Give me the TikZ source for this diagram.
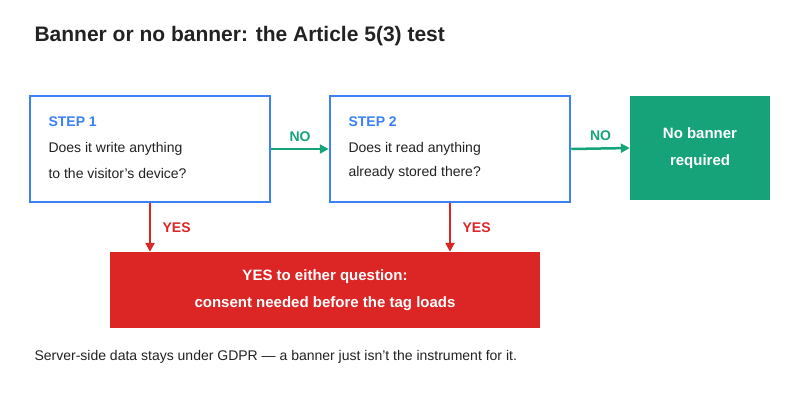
\documentclass[tikz,border=0pt]{standalone}
\usepackage{fontspec}
\setmainfont{Liberation Sans}
\usetikzlibrary{arrows.meta,positioning}
\definecolor{stepblue}{HTML}{3B82F6}
\definecolor{nogreen}{HTML}{16A37A}
\definecolor{yesred}{HTML}{DC2626}
\definecolor{inkgray}{HTML}{222222}
\begin{document}
\begin{tikzpicture}[x=1pt,y=-1pt,>={Triangle[length=9pt,width=9pt]},
    step box/.style={draw=stepblue,line width=2.5pt,fill=white,minimum width=240pt,minimum height=106pt},
    body/.style={anchor=west,font=\fontsize{14}{17}\selectfont,text=inkgray},
    head/.style={anchor=west,font=\fontsize{14}{17}\selectfont\bfseries,text=stepblue},
    no arrow/.style={->,draw=nogreen,line width=2.5pt},
    yes arrow/.style={->,draw=yesred,line width=2.5pt},
    tag/.style={font=\fontsize{14}{17}\selectfont\bfseries}]
  \useasboundingbox (0,0) rectangle (800,400);
  \node[anchor=west,font=\fontsize{21}{25}\selectfont\bfseries,text=inkgray] (title) at (31,36) {Banner or no banner: the Article 5(3) test};
  % the two questions
  \node[step box] (s1) at (150,149) {};
  \node[step box] (s2) at (450,149) {};
  \node[head] (h1) at (45,122) {STEP 1};
  \node[body] (q1a) at (45,149) {Does it write anything};
  \node[body] (q1b) at (45,173) {to the visitor's device?};
  \node[head] (h2) at (345,122) {STEP 2};
  \node[body] (q2a) at (345,149) {Does it read anything};
  \node[body] (q2b) at (345,173) {already stored there?};
  % outcomes
  \node[fill=nogreen,minimum width=140pt,minimum height=104pt,text=white,align=center,
        font=\fontsize{15}{27}\selectfont\bfseries] (nob) at (700,148) {No banner\\required};
  \node[fill=yesred,minimum width=430pt,minimum height=76pt,text=white,align=center,
        font=\fontsize{15}{27}\selectfont\bfseries] (yes) at (325,290) {YES to either question:\\consent needed before the tag loads};
  % connectors
  \draw[no arrow] (s1.east) -- node[tag,text=nogreen,above=3pt] {NO} (s2.west);
  \draw[no arrow] (s2.east) -- node[tag,text=nogreen,above=3pt] {NO} (nob.west);
  \draw[yes arrow] (s1.south) -- node[tag,text=yesred,right=8pt] {YES} (s1.south |- yes.north);
  \draw[yes arrow] (s2.south) -- node[tag,text=yesred,right=8pt] {YES} (s2.south |- yes.north);
  \node[anchor=west,font=\fontsize{14}{17}\selectfont,text=inkgray] (note) at (31,357) {Server-side data stays under GDPR — a banner just isn't the instrument for it.};
\end{tikzpicture}
\end{document}
